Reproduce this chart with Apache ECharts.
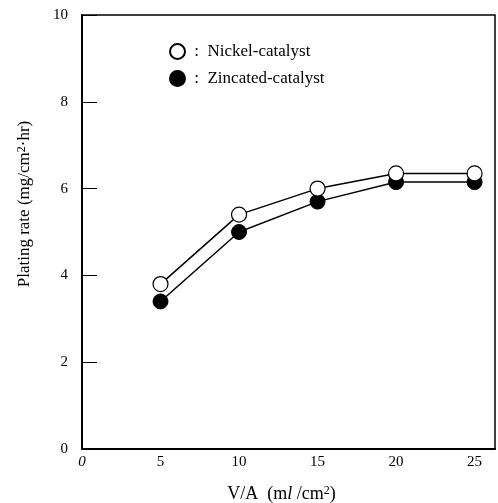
<!DOCTYPE html>
<html>
<head>
<meta charset="utf-8">
<script src="https://cdn.jsdelivr.net/npm/echarts@6/dist/echarts.min.js"></script>
<style>html,body{margin:0;padding:0;background:#fff}#c{width:498px;height:503px}</style>
</head>
<body>
<div id="c"></div>
<script>
const va = [5, 10, 15, 20, 25];
const nickel = [3.8, 5.4, 6.0, 6.35, 6.35];
const zincated = [3.4, 5.0, 5.7, 6.15, 6.15];
const seriesNames = ['Nickel-catalyst', 'Zincated-catalyst'];
const xTicks = [0, 5, 10, 15, 20, 25];
const yTicks = [0, 2, 4, 6, 8, 10];

const font = '"Liberation Serif", "DejaVu Serif", serif';
const chart = echarts.init(document.getElementById('c'));
const pairs = (ys) => va.map((x, i) => [x, ys[i]]);
const supStyle = { fontFamily: font, fontSize: 12, color: '#000', verticalAlign: 'top', padding: [0, 0, 6, 0] };
chart.setOption({
  animation: false,
  backgroundColor: '#fff',
  grid: { left: 82, top: 15, width: 413, height: 434, show: true, borderColor: '#000', borderWidth: 1.5, backgroundColor: 'transparent',
    outerBoundsMode: 'none', containLabel: false },
  legend: {
    orient: 'vertical', left: 164, top: 38, itemGap: 10, itemWidth: 15, itemHeight: 15,
    icon: 'circle',
    data: seriesNames,
    formatter: n => ' :  ' + n,
    textStyle: { fontFamily: font, fontSize: 17, color: '#000' }
  },
  xAxis: {
    type: 'value', min: 0, max: 26.3, interval: 5,
    name: 'V/A  (m{i|l} /cm{s|2})', nameLocation: 'middle', nameGap: 36,
    nameTextStyle: { fontFamily: font, fontSize: 18, color: '#000', padding: [0, 14, 0, 0],
      rich: { i: { fontFamily: font, fontStyle: 'italic', fontSize: 18, color: '#000' }, s: supStyle } },
    axisLine: { show: true, lineStyle: { color: '#000', width: 2 } },
    axisTick: { show: false },
    splitLine: { show: false },
    axisLabel: {
      showMaxLabel: false, margin: 6,
      fontFamily: font, fontSize: 15, color: '#000',
      formatter: v => xTicks.includes(v) ? (v === 0 ? '{i|0}' : String(v)) : '',
      rich: { i: { fontFamily: font, fontStyle: 'italic', fontSize: 15, color: '#000' } }
    }
  },
  yAxis: {
    type: 'value', min: 0, max: 10, interval: 2,
    name: 'Plating rate (mg/cm{s|2}·hr)', nameLocation: 'middle', nameGap: 48,
    nameTextStyle: { fontFamily: font, fontSize: 17, color: '#000', padding: [0, 0, 0, 56], rich: { s: supStyle } },
    axisLine: { show: true, lineStyle: { color: '#000', width: 2 } },
    axisTick: { show: true, inside: true, length: 15, lineStyle: { color: '#000', width: 1 } },
    splitLine: { show: false },
    axisLabel: {
      margin: 14, fontFamily: font, fontSize: 15, color: '#000',
      formatter: v => yTicks.includes(v) ? String(v) : ''
    }
  },
  series: [
    {
      name: seriesNames[0], type: 'line', data: pairs(nickel), z: 3,
      symbol: 'circle', symbolSize: 15,
      lineStyle: { color: '#000', width: 1.5 },
      itemStyle: { color: '#fff', borderColor: '#000', borderWidth: 1.2 }
    },
    {
      name: seriesNames[1], type: 'line', data: pairs(zincated), z: 2,
      symbol: 'circle', symbolSize: 15,
      lineStyle: { color: '#000', width: 1.5 },
      itemStyle: { color: '#000', borderColor: '#000', borderWidth: 1 }
    }
  ]
});
</script>
</body>
</html>
